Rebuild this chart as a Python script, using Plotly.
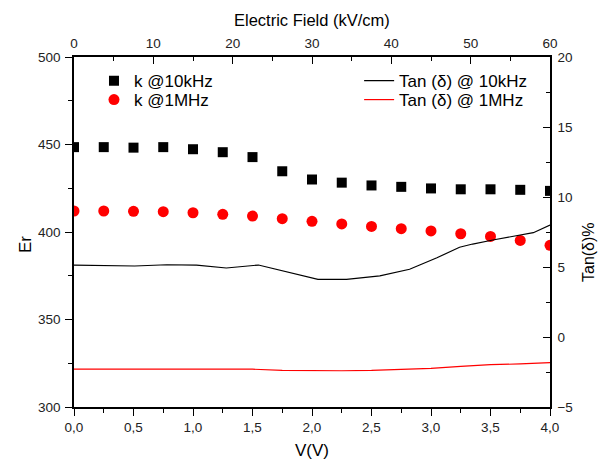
import plotly.graph_objects as go

# ---- data ----
voltage = [0, 0.25, 0.5, 0.75, 1.0, 1.25, 1.5, 1.75, 2.0, 2.25, 2.5, 2.75, 3.0, 3.25, 3.5, 3.75, 4.0]
k_10kHz = [448.5, 448.5, 448.2, 448.5, 447.3, 445.6, 442.8, 434.7, 430.0, 428.2, 426.6, 425.8, 424.9, 424.4, 424.4, 424.1, 423.5]
k_1MHz = [412.0, 412.0, 411.8, 411.6, 411.0, 410.1, 409.1, 407.6, 406.1, 404.6, 403.2, 401.9, 400.6, 399.0, 397.5, 395.2, 392.4]

tan_v_10kHz = [0, 0.51, 0.78, 1.03, 1.28, 1.55, 2.05, 2.29, 2.57, 2.82, 3.05, 3.24, 3.35, 3.52, 3.86, 4.0]
tan_10kHz = [5.14, 5.07, 5.16, 5.14, 4.93, 5.14, 4.12, 4.12, 4.36, 4.84, 5.66, 6.41, 6.64, 6.93, 7.45, 8.0]

tan_v_1MHz = [0, 0.5, 1.0, 1.5, 1.75, 2.0, 2.25, 2.5, 2.75, 3.0, 3.25, 3.5, 3.75, 4.0]
tan_1MHz = [-2.29, -2.29, -2.29, -2.30, -2.38, -2.41, -2.41, -2.39, -2.33, -2.24, -2.10, -1.98, -1.92, -1.83]

v_ticks = [0, 0.5, 1.0, 1.5, 2.0, 2.5, 3.0, 3.5, 4.0]
v_tick_labels = ["0,0", "0,5", "1,0", "1,5", "2,0", "2,5", "3,0", "3,5", "4,0"]
field_ticks = [0, 10, 20, 30, 40, 50, 60]

FONT = "Liberation Sans, Arial, sans-serif"

fig = go.Figure()

fig.add_trace(go.Scatter(
    x=voltage, y=k_10kHz, mode="markers", name="k @10kHz",
    marker=dict(symbol="square", size=10, color="black"),
    xaxis="x", yaxis="y", legend="legend"))
fig.add_trace(go.Scatter(
    x=voltage, y=k_1MHz, mode="markers", name="k @1MHz",
    marker=dict(symbol="circle", size=11, color="#ff0000"),
    xaxis="x", yaxis="y", legend="legend2"))
fig.add_trace(go.Scatter(
    x=tan_v_10kHz, y=tan_10kHz, mode="lines", name="Tan (\u03b4) @ 10kHz",
    line=dict(color="black", width=1.2),
    xaxis="x", yaxis="y2", legend="legend3"))
fig.add_trace(go.Scatter(
    x=tan_v_1MHz, y=tan_1MHz, mode="lines", name="Tan (\u03b4) @ 1MHz",
    line=dict(color="#ff0000", width=1.2),
    xaxis="x", yaxis="y2", legend="legend4"))
# invisible trace to activate the top axis
fig.add_trace(go.Scatter(
    x=[0], y=[300], mode="markers", marker=dict(opacity=0),
    xaxis="x2", yaxis="y", showlegend=False, hoverinfo="skip"))

axis_common = dict(showgrid=False, zeroline=False, showline=True, linecolor="black",
                   linewidth=1.5, ticklen=7, tickwidth=1.2, tickcolor="black",
                   automargin=False,
                   tickfont=dict(family=FONT, size=13.5, color="#222"))

def leg(x, y):
    return dict(x=x, y=y, xanchor="left", yanchor="middle", bgcolor="rgba(0,0,0,0)",
                font=dict(family=FONT, size=17), itemwidth=30, tracegroupgap=0)

fig.update_layout(
    width=602, height=452,
    margin=dict(l=66, r=60, t=49, b=53),
    paper_bgcolor="white", plot_bgcolor="white",
    font=dict(family=FONT, color="black"),
    xaxis=dict(range=[0, 4], tickvals=v_ticks, ticktext=v_tick_labels, ticks="outside",
               minor=dict(dtick=0.25, ticklen=4, ticks="outside", tickcolor="black"),
               **axis_common),
    xaxis2=dict(range=[0, 60], tickvals=field_ticks, overlaying="x", side="top", anchor="y",
                ticks="inside", ticklabelstandoff=2,
                minor=dict(dtick=5, ticklen=4, ticks="inside", tickcolor="black"),
                **axis_common),
    yaxis=dict(range=[300, 500], dtick=50, ticks="outside", ticklabelstandoff=2,
               minor=dict(dtick=25, ticklen=4, ticks="outside", tickcolor="black"),
               **axis_common),
    yaxis2=dict(range=[-5, 20], dtick=5, overlaying="y", side="right", anchor="x",
                ticks="inside", ticklabelstandoff=3,
                minor=dict(dtick=2.5, ticklen=4, ticks="inside", tickcolor="black"),
                **axis_common),
    legend=leg(0.042, 0.931),
    legend2=leg(0.042, 0.877),
    legend3=leg(0.599, 0.931),
    legend4=leg(0.599, 0.877),
    showlegend=True,
    annotations=[
        dict(text="V(V)", xref="paper", yref="paper", x=0.5, y=(407 - 450) / 350,
             xanchor="center", yanchor="middle", showarrow=False,
             font=dict(family=FONT, size=17, color="black")),
        dict(text="Electric Field (kV/cm)", xref="paper", yref="paper", x=0.5, y=(407 - 20) / 350,
             xanchor="center", yanchor="middle", showarrow=False,
             font=dict(family=FONT, size=16.5, color="black")),
        dict(text="Er", xref="paper", yref="paper", x=(25 - 74) / 476, y=(407 - 245) / 350,
             textangle=-90, xanchor="center", yanchor="middle", showarrow=False,
             font=dict(family=FONT, size=17, color="black")),
        dict(text="Tan(\u03b4)%", xref="paper", yref="paper", x=(588 - 74) / 476, y=(407 - 252) / 350,
             textangle=-90, xanchor="center", yanchor="middle", showarrow=False,
             font=dict(family=FONT, size=16, color="black")),
    ],
)

fig.write_html("out.html")
